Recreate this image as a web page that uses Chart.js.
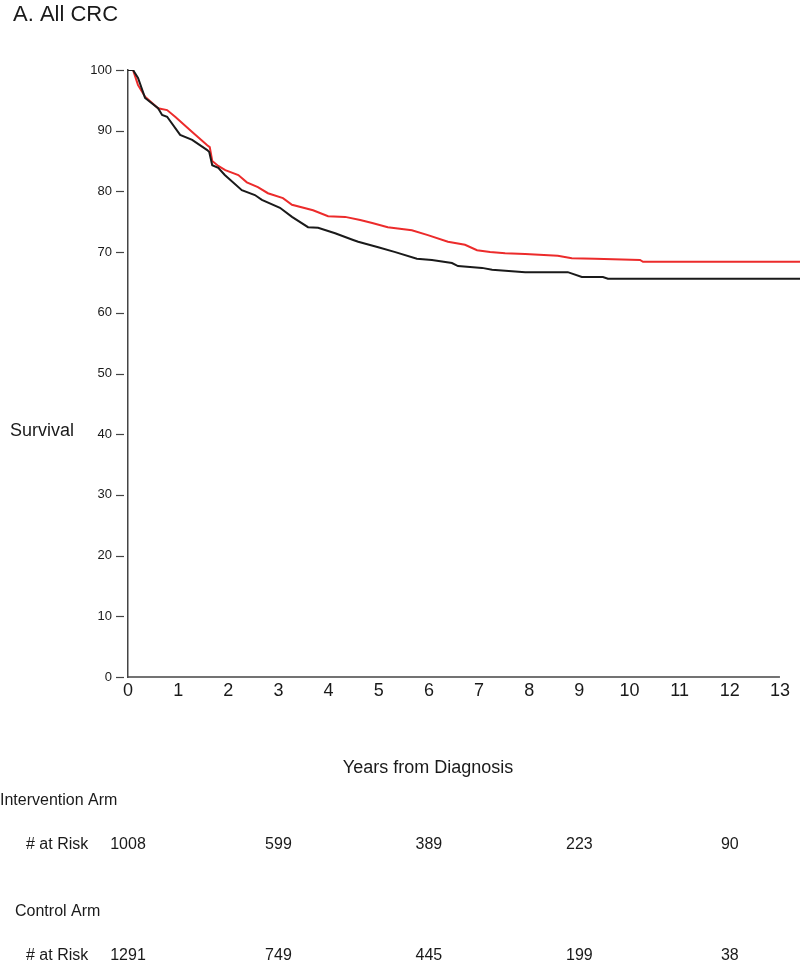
<!DOCTYPE html>
<html>
<head>
<meta charset="utf-8">
<script src="https://cdn.jsdelivr.net/npm/chart.js@4"></script>
<style>
  html, body { margin: 0; padding: 0; background: #ffffff; }
  #wrap { width: 800px; height: 960px; position: relative; }
</style>
</head>
<body>
<div id="wrap"><canvas id="c" width="800" height="960"></canvas></div>
<script>
// ---- data ----
const chartTitle = "A. All CRC";
const yAxisTitle = "Survival";
const xAxisTitle = "Years from Diagnosis";
const xTickValues = [0,1,2,3,4,5,6,7,8,9,10,11,12,13];
const yTickValues = [0,10,20,30,40,50,60,70,80,90,100];

const interventionTimes = [0,0.1,0.2,0.34,0.6,0.78,0.94,1.28,1.58,1.63,1.68,1.8,1.94,2.2,2.37,2.59,2.79,3.09,3.27,3.69,3.99,4.33,4.63,4.87,5.18,5.66,5.98,6.38,6.72,6.96,7.22,7.52,7.92,8.57,8.85,9.31,10.21,10.27,13.4];
const interventionSurv  = [100,100,97.5,95.6,93.7,93.4,92.3,89.8,87.6,87.3,85.0,84.2,83.5,82.7,81.5,80.7,79.7,78.9,77.8,76.9,75.9,75.8,75.3,74.8,74.1,73.6,72.8,71.7,71.2,70.3,70.0,69.8,69.7,69.4,69.0,68.9,68.7,68.4,68.4];

const controlTimes = [0,0.1,0.2,0.34,0.6,0.68,0.78,1.04,1.28,1.58,1.62,1.68,1.8,1.93,2.27,2.53,2.67,3.03,3.27,3.59,3.79,4.13,4.49,4.59,4.99,5.33,5.76,6.06,6.46,6.58,6.88,7.06,7.26,7.92,8.77,9.05,9.47,9.57,13.4];
const controlSurv  = [100,100,98.7,95.4,93.7,92.6,92.3,89.3,88.5,86.8,86.5,84.3,83.9,82.7,80.2,79.4,78.6,77.3,75.8,74.1,74.0,73.1,72.0,71.7,70.8,70.0,68.9,68.7,68.2,67.7,67.5,67.4,67.1,66.7,66.7,65.9,65.9,65.6,65.6];

const riskYears = [0,3,6,9,12];
const interventionLabel = "Intervention Arm";
const controlLabel = "Control Arm";
const atRiskLabel = "# at Risk";
const interventionAtRisk = [1008,599,389,223,90];
const controlAtRisk = [1291,749,445,199,38];

// ---- chart ----
const FONT = "'Liberation Sans', Arial, sans-serif";
const INK = '#1a1a1a';
const AXIS = '#444444';
const toPts = (xs, ys) => xs.map((x, i) => ({x: x, y: ys[i]}));

const textPlugin = {
  id: 'texts',
  afterDraw(chart) {
    const ctx = chart.ctx;
    const xs = chart.scales.x;
    const ys = chart.scales.y;
    const axisX = xs.getPixelForValue(0);
    ctx.save();
    // x axis line from first to last tick
    ctx.strokeStyle = AXIS;
    ctx.lineWidth = 1.5;
    ctx.beginPath();
    ctx.moveTo(axisX, ys.getPixelForValue(0));
    ctx.lineTo(xs.getPixelForValue(xTickValues[xTickValues.length-1]), ys.getPixelForValue(0));
    ctx.stroke();
    // y tick dashes, detached from the axis
    ctx.lineWidth = 1.2;
    yTickValues.forEach(v => {
      const py = Math.round(ys.getPixelForValue(v)) + 0.5;
      ctx.beginPath();
      ctx.moveTo(axisX - 12, py);
      ctx.lineTo(axisX - 4, py);
      ctx.stroke();
    });

    ctx.fillStyle = INK;
    ctx.textBaseline = 'middle';
    // title
    ctx.font = "22px " + FONT;
    ctx.textAlign = 'left';
    ctx.fillText(chartTitle, 13, 15);
    // y title
    ctx.font = "18px " + FONT;
    ctx.fillText(yAxisTitle, 10, 431);
    // x title
    ctx.textAlign = 'center';
    ctx.fillText(xAxisTitle, 428, 768);
    // risk table
    ctx.font = "16px " + FONT;
    ctx.textAlign = 'left';
    ctx.fillText(interventionLabel, 0, 801);
    ctx.fillText(atRiskLabel, 26, 845);
    ctx.fillText(controlLabel, 15, 912);
    ctx.fillText(atRiskLabel, 26, 956);
    ctx.textAlign = 'center';
    riskYears.forEach((yr, i) => {
      const px = xs.getPixelForValue(yr);
      ctx.fillText(String(interventionAtRisk[i]), px, 845);
      ctx.fillText(String(controlAtRisk[i]), px, 956);
    });
    ctx.restore();
  }
};

new Chart(document.getElementById('c'), {
  type: 'line',
  data: {
    datasets: [
      {
        label: controlLabel,
        data: toPts(controlTimes, controlSurv),
        borderColor: INK,
        borderWidth: 2,
        pointRadius: 0,
        tension: 0,
        fill: false
      },
      {
        label: interventionLabel,
        data: toPts(interventionTimes, interventionSurv),
        borderColor: '#ec2b2b',
        borderWidth: 2,
        pointRadius: 0,
        tension: 0,
        fill: false
      }
    ]
  },
  options: {
    responsive: false,
    animation: false,
    devicePixelRatio: 1,
    layout: { padding: { top: 70, left: 0, right: 0, bottom: 0 } },
    plugins: { legend: { display: false }, tooltip: { enabled: false }, title: { display: false } },
    scales: {
      x: {
        type: 'linear',
        min: 0,
        max: 13.4,
        afterBuildTicks: (s) => { s.ticks = xTickValues.map(v => ({value: v})); },
        afterFit: (s) => { s.height = 283; },
        grid: { display: false, drawTicks: false },
        border: { display: false },
        ticks: { color: INK, font: { family: FONT, size: 18 }, padding: 3, maxRotation: 0, autoSkip: false }
      },
      y: {
        min: 0,
        max: 100,
        afterBuildTicks: (s) => { s.ticks = yTickValues.map(v => ({value: v})); },
        afterFit: (s) => { s.width = 128; },
        grid: { drawOnChartArea: false, drawTicks: false },
        border: { display: true, color: AXIS, width: 1.5 },
        ticks: { color: INK, font: { family: FONT, size: 13 }, padding: 16 }
      }
    }
  },
  plugins: [textPlugin]
});
</script>
</body>
</html>
